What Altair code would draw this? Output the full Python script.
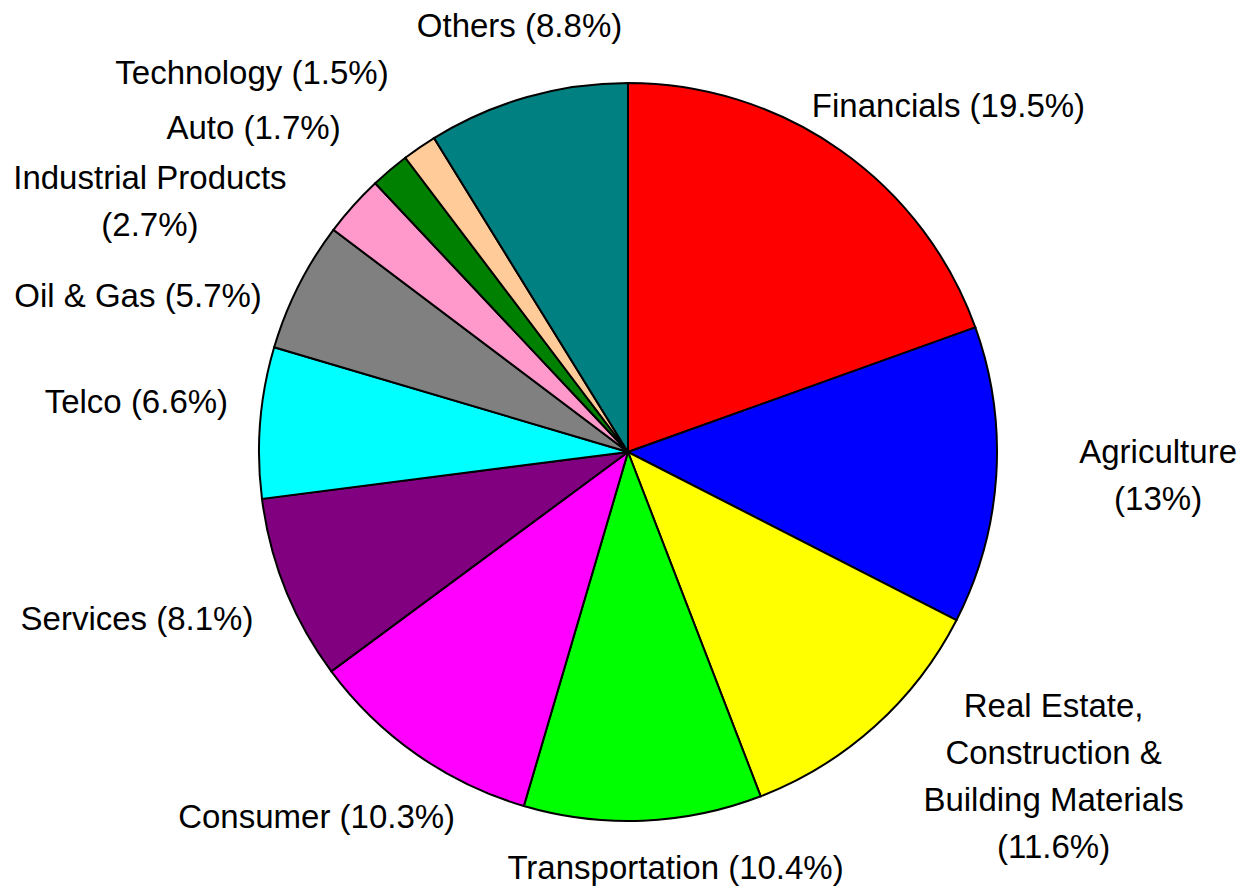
import altair as alt
import pandas as pd

# ---- data ----
categories = [
    "Financials", "Agriculture", "Real Estate, Construction & Building Materials",
    "Transportation", "Consumer", "Services", "Telco", "Oil & Gas",
    "Industrial Products", "Auto", "Technology", "Others",
]
shares = [19.5, 13, 11.6, 10.4, 10.3, 8.1, 6.6, 5.7, 2.7, 1.7, 1.5, 8.8]
label_texts = [
    "Financials (19.5%)",
    "Agriculture\n(13%)",
    "Real Estate,\nConstruction &\nBuilding Materials\n(11.6%)",
    "Transportation (10.4%)",
    "Consumer (10.3%)",
    "Services (8.1%)",
    "Telco (6.6%)",
    "Oil & Gas (5.7%)",
    "Industrial Products\n(2.7%)",
    "Auto (1.7%)",
    "Technology (1.5%)",
    "Others (8.8%)",
]

# ---- style ----
colors = ["#FF0000", "#0000FF", "#FFFF00", "#00FF00", "#FF00FF", "#800080",
          "#00FFFF", "#808080", "#FF99CC", "#008000", "#FFCC99", "#008080"]
# pixel nudges of each label (first line) from its slice's mid-angle point
label_nudges = [(73, 7), (101, -27), (138, -65), (30, -13), (-65, 14), (-92, 8),
                (-63, -15), (-106, 39), (-158, 14), (-97, 6), (-133, -23), (9, -11)]
PIE_R = 369
LABEL_R = 430
FONT = "Liberation Sans"

df = pd.DataFrame({
    "category": categories,
    "share": shares,
    "label": label_texts,
    "idx": list(range(len(categories))),
})
total = float(sum(shares))

theta_scale = alt.Scale(domain=[0, total], nice=False)
base = alt.Chart(df)

pie = base.mark_arc(outerRadius=PIE_R, stroke="black", strokeWidth=2).encode(
    theta=alt.Theta("share:Q", stack=True, scale=theta_scale),
    color=alt.Color("category:N", scale=alt.Scale(domain=categories, range=colors), legend=None),
    order=alt.Order("idx:Q"),
)

layers = [pie]
for i, (ndx, ndy) in enumerate(label_nudges):
    t = (
        base.transform_window(cum="sum(share)", sort=[alt.SortField("idx")], frame=[None, 0])
        .transform_calculate(mid="datum.cum - datum.share / 2")
        .transform_filter(alt.datum.idx == i)
        .mark_text(radius=LABEL_R, dx=ndx, dy=ndy, font=FONT, fontSize=33,
                   lineBreak="\n", lineHeight=47, align="center", baseline="middle",
                   color="black")
        .encode(
            theta=alt.Theta("mid:Q", stack=False, scale=theta_scale),
            text="label:N",
        )
    )
    layers.append(t)

chart = alt.layer(*layers).properties(
    width=1220, height=868,
    padding={"left": 10, "top": 10, "right": 1, "bottom": 0},
    autosize=alt.AutoSizeParams(type="none"),
    background="white",
).configure_view(strokeWidth=0)

chart.save("out.html", embed_options={"renderer": "svg", "actions": False})
